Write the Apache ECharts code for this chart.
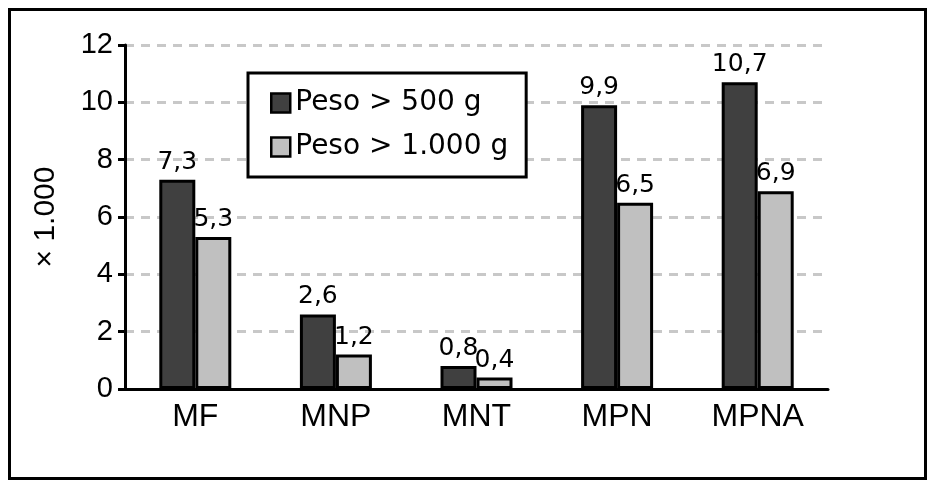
<!DOCTYPE html>
<html>
<head>
<meta charset="utf-8">
<script src="https://cdn.jsdelivr.net/npm/echarts@6/dist/echarts.min.js"></script>
<style>
  html, body { margin: 0; padding: 0; background: #fff; }
  #chart { width: 938px; height: 490px; }
</style>
</head>
<body>
<div id="chart"></div>
<script>
// categories and values
const categories = ['MF', 'MNP', 'MNT', 'MPN', 'MPNA'];
const peso500 = [7.3, 2.6, 0.8, 9.9, 10.7];
const peso1000 = [5.3, 1.2, 0.4, 6.5, 6.9];
const seriesNames = ['Peso > 500 g', 'Peso > 1.000 g'];
const yTicks = [0, 2, 4, 6, 8, 10, 12];

const font = '"Liberation Sans", Arial, Helvetica, sans-serif';
const wideFont = '"DejaVu Sans", Verdana, sans-serif';
const chart = echarts.init(document.getElementById('chart'));

// decimal comma like the original
const fmt = p => String(p.value).replace('.', ',');

const barStyle = color => ({
  color: color,
  borderColor: '#000',
  borderWidth: 3,
});

const barLabel = {
  show: true,
  position: 'top',
  distance: 5,
  fontSize: 25,
  fontFamily: wideFont,
  color: '#000',
  formatter: fmt,
};

chart.setOption({
  animation: false,
  backgroundColor: '#fff',
  textStyle: { fontFamily: font, color: '#000' },
  graphic: [
    {
      type: 'rect',
      shape: { x: 9.5, y: 9.5, width: 916, height: 469 },
      style: { fill: 'none', stroke: '#000', lineWidth: 3 },
      z: 100,
    },
  ],
  legend: {
    orient: 'vertical',
    left: 248,
    top: 73,
    padding: [16, 18, 16, 22],
    itemGap: 16,
    itemWidth: 19,
    itemHeight: 19,
    borderColor: '#000',
    borderWidth: 3,
    backgroundColor: '#fff',
    icon: 'rect',
    textStyle: { fontSize: 28, fontFamily: wideFont, color: '#000' },
    itemStyle: { borderColor: '#000', borderWidth: 2.5 },
    data: seriesNames,
    z: 10,
  },
  grid: { left: 125, right: 110, top: 45, bottom: 101 },
  xAxis: {
    type: 'category',
    data: categories,
    axisLine: { lineStyle: { color: '#000', width: 3 } },
    axisTick: { length: 8, lineStyle: { color: '#000', width: 3 } },
    axisLabel: { fontSize: 32, color: '#000', margin: 12, fontFamily: font },
  },
  yAxis: {
    type: 'value',
    min: yTicks[0],
    max: yTicks[yTicks.length - 1],
    interval: 2,
    name: '× 1.000',
    nameLocation: 'middle',
    nameGap: 64,
    nameTextStyle: { fontSize: 30, color: '#000', fontFamily: font },
    axisLine: { show: true, lineStyle: { color: '#000', width: 3 } },
    axisTick: { show: true, length: 7, lineStyle: { color: '#000', width: 3 } },
    axisLabel: { fontSize: 29, color: '#000', margin: 12, fontFamily: font },
    splitLine: {
      lineStyle: { color: '#c8c8c8', width: 3, type: [9, 7] },
    },
  },
  series: [
    {
      name: seriesNames[0],
      type: 'bar',
      data: peso500,
      barWidth: 36,
      barGap: '0%',
      itemStyle: barStyle('#404040'),
      label: barLabel,
    },
    {
      name: seriesNames[1],
      type: 'bar',
      data: peso1000,
      barWidth: 36,
      barGap: '0%',
      itemStyle: barStyle('#c0c0c0'),
      label: barLabel,
    },
  ],
});
</script>
</body>
</html>
